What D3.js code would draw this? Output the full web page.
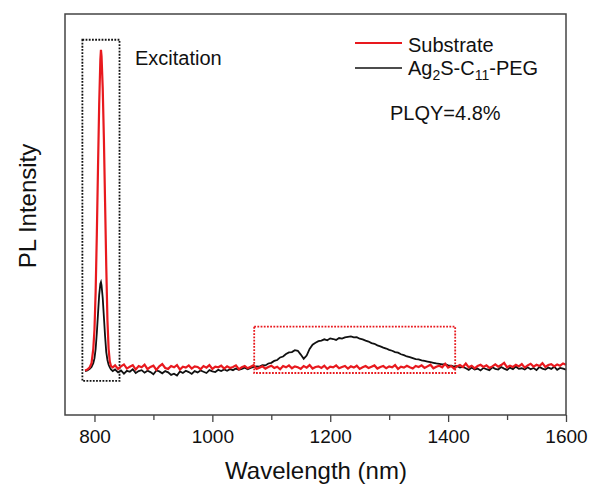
<!DOCTYPE html>
<html>
<head>
<meta charset="utf-8">
<script src="https://cdn.jsdelivr.net/npm/d3@7"></script>
<style>
  body { margin: 0; background: #fff; overflow: hidden; }
  svg { display: block; font-family: "Liberation Sans", Arial, sans-serif; }
</style>
</head>
<body>
<div id="chart"></div>
<script>
// excitation peak region, sampled finer
const peakWavelength = [784, 788, 792, 795, 798, 800, 802, 804, 806, 808, 810, 811, 812, 814, 816, 818, 820, 822, 824, 826, 828, 831];
const peakSubstrate = [-0.8, -0.5, 0.2, 1.5, 6, 12, 24, 42, 63, 83, 97, 100, 98, 88, 72, 52, 32, 15, 6, 2, 0.6, 0.2];
const peakAg2S = [-1.0, -0.8, -0.3, 0.3, 1.5, 3, 6, 11, 17, 23, 26.5, 27, 26, 22, 16, 10, 5, 2.5, 1, 0.2, -0.5, -1.0];

// rest of the spectrum, 835..1600 nm every 5 nm
const baseWavelength = d3.range(835, 1601, 5);
const baseSubstrate = [
  0.8, -0.3, 0.5, 1.1, -0.2, 0.4, 0.9, -0.5, 0.6, 0.2,
  1.0, -0.4, 0.3, 0.7, -0.6, 0.5, 1.2, 0.0, -0.3, 0.6,
  0.2, 0.9, -0.5, 0.4, 0.1, 0.8, -0.2, 0.5, 0.3, -0.4,
  0.6, 0.1, 0.9, -0.3, 0.4, 0.2, 0.7, -0.2, 0.5, 0.0,
  0.3, 0.8, -0.4, 0.2, 0.6, -0.1, 0.4, 0.9, -0.3, 0.1,
  0.5, -0.2, 0.3, 0.7, 0.0, 0.4, -0.4, 0.6, 0.2, 0.8,
  -0.1, 0.5, 0.2, -0.3, 0.6, 0.1, 0.9, -0.2, 0.3, 0.5,
  0.0, 0.7, -0.3, 0.4, 0.2, 0.8, -0.1, 0.3, 0.6, -0.2,
  0.5, 0.1, 0.7, -0.3, 0.2, 0.6, 0.0, 0.4, 0.8, -0.2,
  0.3, 0.6, -0.1, 0.5, 0.2, 0.9, -0.3, 0.4, 0.1, 0.7,
  0.2, -0.2, 0.6, 0.3, 0.8, 0.0, 0.5, 1.0, -0.1, 0.4,
  0.7, 0.2, 1.3, 0.1, 0.6, -0.2, 0.5, 0.9, 0.3, 1.4,
  0.2, 0.7, -0.1, 0.6, 1.0, 0.3, 0.8, 0.0, 0.5, 1.1,
  0.4, 0.9, 1.6, 0.2, 0.7, 0.3, 1.0, 0.5, 1.2, 0.1,
  0.8, 1.3, 0.4, 1.0, 0.6, 1.5, 0.3, 0.9, 1.2, 0.5,
  1.1, 0.7, 1.4, 1.0
];
const baseAg2S = [
  -0.5, -1.4, -0.8, -1.8, -0.9, -1.2, -0.4, -1.6, -1.0, -0.7,
  -1.5, -0.9, -1.3, -2.0, -0.8, -1.1, -1.7, -1.0, -1.4, -2.2,
  -1.8, -2.4, -1.1, -1.6, -0.9, -1.3, -1.9, -1.0, -1.4, -0.8,
  -1.2, -1.6, -0.7, -1.1, -1.3, -0.6, -1.0, -0.5, -0.9, -0.4,
  -0.7, -0.2, -0.6, -0.3, 0.1, -0.4, 0.0, 0.3, 0.5, 0.4,
  0.9, 0.8, 1.4, 1.6, 2.2, 2.5, 3.3, 3.6, 4.4, 4.9,
  5.0, 5.6, 5.4, 4.2, 2.9, 3.9, 6.0, 7.3, 7.9, 8.4,
  8.6, 9.0, 8.7, 9.3, 9.1, 8.8, 9.4, 9.2, 9.6, 9.8,
  9.9, 9.6, 9.7, 9.2, 9.0, 8.6, 8.3, 7.8, 7.6, 7.1,
  6.8, 6.4, 6.1, 5.7, 5.4, 5.0, 4.8, 4.3, 4.0, 3.6,
  3.4, 3.1, 2.8, 2.7, 2.4, 2.2, 2.0, 1.8, 1.6, 1.4,
  1.3, 1.1, 1.2, 0.8, 0.7, 0.4, 0.6, 0.1, 0.3, -0.1,
  -0.6, 0.1, -0.5, -0.2, -0.8, 0.0, -0.4, -0.7, 0.2, -0.3,
  -0.5, 0.3, -0.2, -0.6, 0.1, -0.4, 0.4, -0.3, -0.1, -0.5,
  0.2, -0.4, 0.0, -0.7, 0.3, -0.2, -0.5, 0.1, -0.3, 0.4,
  -0.6, 0.0, -0.2, -0.5
];

const majorTicks = [800, 1000, 1200, 1400, 1600];
const minorTicks = [900, 1100, 1300, 1500];

// highlight boxes: [x0, x1] nm, [y0, y1] intensity
const excitationBox = { x: [779.5, 842.5], y: [-4.1, 103.2] };
const emissionBox = { x: [1071, 1412], y: [-1.6, 13.0] };

const width = 589, height = 489;
const margin = { top: 14, right: 23, bottom: 74, left: 65 };
const innerWidth = width - margin.left - margin.right;
const innerHeight = height - margin.top - margin.bottom;

const red = '#e8191e', black = '#111';

const svg = d3.select('#chart')
  .append('svg')
  .attr('width', width)
  .attr('height', height);

const g = svg.append('g')
  .attr('transform', `translate(${margin.left},${margin.top})`);

const xScale = d3.scaleLinear().domain([750, 1600]).range([0, innerWidth]);
const yScale = d3.scaleLinear().domain([-14.8, 111.3]).range([innerHeight, 0]);

const wl = peakWavelength.concat(baseWavelength);
const substrate = wl.map((w, i) => [w, peakSubstrate.concat(baseSubstrate)[i]]);
const ag2s = wl.map((w, i) => [w, peakAg2S.concat(baseAg2S)[i]]);

const line = d3.line()
  .x(d => xScale(d[0]))
  .y(d => yScale(d[1]));

// dotted boxes
function drawBox(box, color) {
  g.append('rect')
    .attr('x', xScale(box.x[0]))
    .attr('y', yScale(box.y[1]))
    .attr('width', xScale(box.x[1]) - xScale(box.x[0]))
    .attr('height', yScale(box.y[0]) - yScale(box.y[1]))
    .attr('fill', 'none')
    .attr('stroke', color)
    .attr('stroke-width', 1.8)
    .attr('stroke-dasharray', '1.8,1.4');
}
drawBox(excitationBox, black);
drawBox(emissionBox, red);

g.append('path')
  .datum(ag2s)
  .attr('fill', 'none')
  .attr('stroke', black)
  .attr('stroke-width', 1.8)
  .attr('d', line);

g.append('path')
  .datum(substrate)
  .attr('fill', 'none')
  .attr('stroke', red)
  .attr('stroke-width', 2.2)
  .attr('d', line);

// frame
g.append('rect')
  .attr('width', innerWidth)
  .attr('height', innerHeight)
  .attr('fill', 'none')
  .attr('stroke', '#444')
  .attr('stroke-width', 1.5);

// x axis, major ticks with labels and minor ticks
const xAxis = g.append('g')
  .attr('transform', `translate(0,${innerHeight})`)
  .call(d3.axisBottom(xScale).tickValues(majorTicks).tickSize(7).tickPadding(8).tickFormat(d3.format('d')));
xAxis.select('.domain').remove();
xAxis.selectAll('line').attr('stroke', '#444').attr('stroke-width', 1.3);
xAxis.selectAll('text')
  .attr('fill', '#111')
  .style('font-size', '19px')
  .style('font-family', '"Liberation Sans", Arial, sans-serif');

g.append('g')
  .attr('transform', `translate(0,${innerHeight})`)
  .call(d3.axisBottom(xScale).tickValues(minorTicks).tickSize(5).tickFormat(''))
  .call(a => a.select('.domain').remove())
  .selectAll('line').attr('stroke', '#444').attr('stroke-width', 1.3);

// axis titles
svg.append('text')
  .attr('x', 316)
  .attr('y', 479)
  .attr('text-anchor', 'middle')
  .attr('fill', '#111')
  .style('font-size', '24px')
  .text('Wavelength (nm)');

svg.append('text')
  .attr('transform', 'translate(36,206) rotate(-90)')
  .attr('text-anchor', 'middle')
  .attr('fill', '#111')
  .style('font-size', '24px')
  .text('PL Intensity');

// annotations
svg.append('text')
  .attr('x', 135)
  .attr('y', 65)
  .attr('fill', '#111')
  .style('font-size', '20px')
  .text('Excitation');

svg.append('text')
  .attr('x', 390)
  .attr('y', 120)
  .attr('fill', '#111')
  .style('font-size', '20px')
  .text('PLQY=4.8%');

// legend
const legend = svg.append('g');
legend.append('line')
  .attr('x1', 355).attr('x2', 402).attr('y1', 43).attr('y2', 43)
  .attr('stroke', red).attr('stroke-width', 2);
legend.append('text')
  .attr('x', 408).attr('y', 52)
  .attr('fill', '#111')
  .style('font-size', '20px')
  .text('Substrate');

legend.append('line')
  .attr('x1', 355).attr('x2', 402).attr('y1', 68).attr('y2', 68)
  .attr('stroke', black).attr('stroke-width', 1.6);
const agText = legend.append('text')
  .attr('x', 408).attr('y', 75)
  .attr('fill', '#111')
  .style('font-size', '20px');
agText.append('tspan').text('Ag');
agText.append('tspan').attr('dy', 5).style('font-size', '14px').text('2');
agText.append('tspan').attr('dy', -5).text('S-C');
agText.append('tspan').attr('dy', 5).style('font-size', '14px').text('11');
agText.append('tspan').attr('dy', -5).text('-PEG');
</script>
</body>
</html>
